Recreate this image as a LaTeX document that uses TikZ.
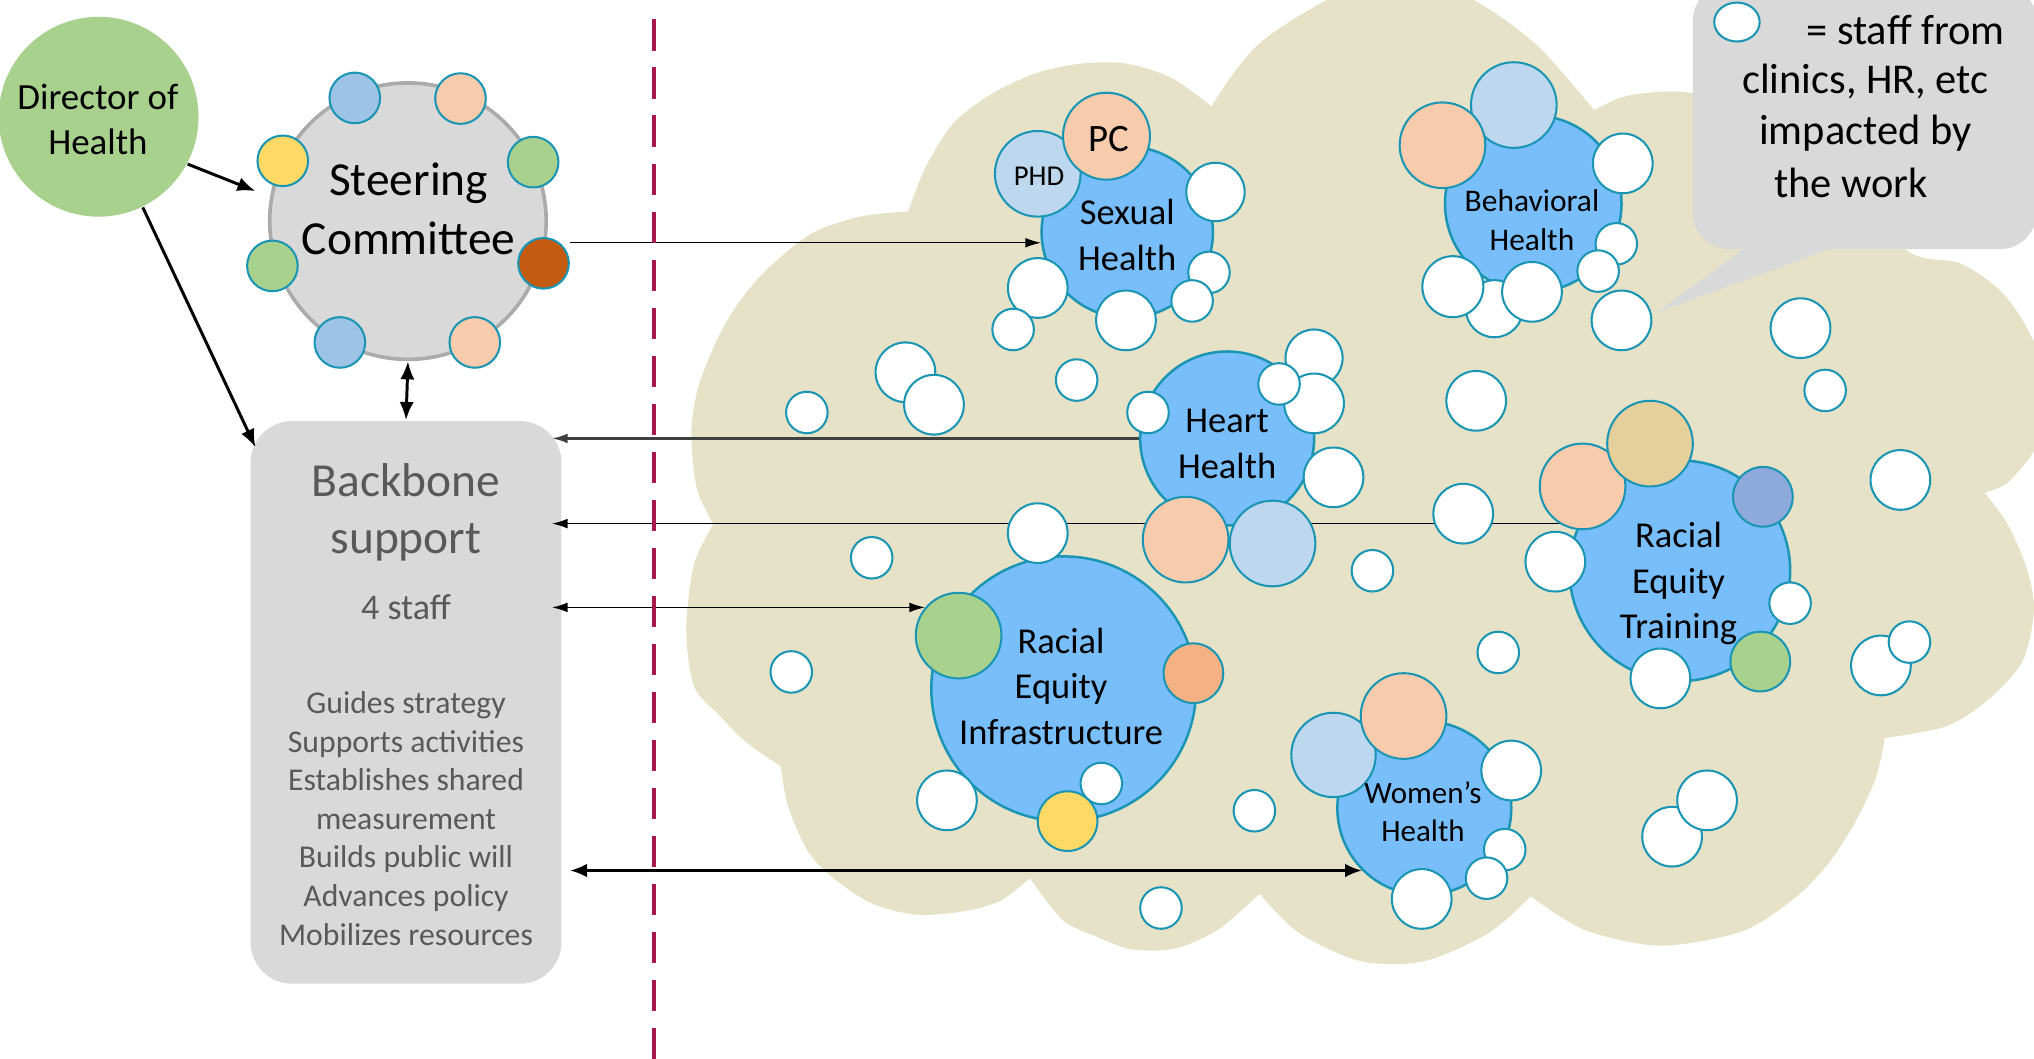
\documentclass[tikz,border=0pt]{standalone}
\usepackage{fontspec}
\setmainfont{Carlito}
\usetikzlibrary{arrows.meta,shapes.geometric}
\pgfdeclarelayer{backdrop}
\pgfdeclarelayer{wires}
\pgfsetlayers{backdrop,wires,main}

\definecolor{dirgreen}{HTML}{A9D18E}
\definecolor{panelgray}{HTML}{D9D9D9}
\definecolor{ringgray}{HTML}{ABABAB}
\definecolor{txtgray}{HTML}{595959}
\definecolor{tealb}{HTML}{1A96B4}
\definecolor{skyblue}{HTML}{78BEFA}
\definecolor{peach}{HTML}{F8CBAD}
\definecolor{paleblue}{HTML}{BDD7EE}
\definecolor{midblue}{HTML}{9DC3E6}
\definecolor{sunyellow}{HTML}{FFD966}
\definecolor{rust}{HTML}{C55A11}
\definecolor{apricot}{HTML}{F4B183}
\definecolor{sand}{HTML}{E5CF9B}
\definecolor{slate}{HTML}{8EA9DB}
\definecolor{cloudc}{HTML}{E6E2C8}
\definecolor{crimson}{HTML}{A8184B}
\definecolor{darkline}{HTML}{404040}

\begin{document}
\begin{tikzpicture}[x=0.01cm, y=-0.01cm,
  tdot/.style={circle, draw=tealb, line width=0.45pt, inner sep=0pt, minimum size=#1},
  ws/.style={tdot=#1, fill=white},
  hub/.style={circle, draw=tealb, fill=skyblue, line width=0.55pt, inner sep=0pt, minimum size=#1},
  hubtxt/.style={align=center, inner sep=0pt, font=\fontsize{8}{10}\selectfont},
  member/.style={tdot=3.9mm},
  ctext/.style={inner sep=0pt, font=\fontsize{9.3}{11.4}\selectfont},
  wire/.style={line width=0.3pt, -{Latex[length=1.2mm, width=0.75mm]}},
  dwire/.style={line width=0.3pt, {Latex[length=1.2mm, width=0.75mm]}-{Latex[length=1.2mm, width=0.75mm]}},
  gwire/.style={wire, draw=darkline, line width=0.5pt},
  fatdwire/.style={line width=0.55pt, {Latex[length=1.3mm, width=1.05mm]}-{Latex[length=1.3mm, width=1.05mm]}},
  dirarrow/.style={line width=0.65pt, -{Latex[length=1.4mm, width=1.1mm]}},
  dirdarrow/.style={line width=0.65pt, {Latex[length=1.4mm, width=1.1mm]}-{Latex[length=1.4mm, width=1.1mm]}},
]
\useasboundingbox (0,0) rectangle (1568,816);

% ---------- background: cloud, callout, backbone panel ----------
\begin{pgfonlayer}{backdrop}
\begin{scope}
\clip (0,0) rectangle (1568,816);
\fill[cloudc] (700,163)
  -- plot[smooth] coordinates {(700,163) (714,128) (735,95) (765,72) (800,56) (834,49) (868,49) (903,60) (934,82)}
  -- plot[smooth] coordinates {(934,82) (952,55) (975,30) (1023,0) (1080,-22) (1136,0) (1185,35) (1229,85)}
  -- plot[smooth] coordinates {(1229,85) (1250,75) (1276,71) (1306,72) (1370,88) (1430,135) (1470,193) (1511,203) (1542,224) (1562,252) (1578,290) (1575,335) (1550,370) (1530,380)}
  -- plot[smooth] coordinates {(1530,380) (1547,403) (1562,437) (1568,470) (1559,510) (1532,540) (1500,560) (1453,569)}
  -- plot[smooth] coordinates {(1453,569) (1446,600) (1430,634) (1410,665) (1384,692) (1343,718) (1280,729) (1222,717) (1180,691)}
  -- plot[smooth] coordinates {(1180,691) (1148,719) (1098,741) (1049,741) (1001,719) (971,689)}
  -- plot[smooth] coordinates {(971,689) (940,716) (907,731) (873,732) (845,722) (819,709) (794,677)}
  -- plot[smooth] coordinates {(794,677) (770,695) (740,703) (705,705) (671,696) (640,675) (622,655) (607,620) (602,591)}
  -- plot[smooth] coordinates {(602,591) (575,572) (555,552) (535,529) (529,485) (535,435) (550,404)}
  -- plot[smooth] coordinates {(550,404) (537,376) (533,331) (540,293) (560,248) (586,213) (624,181) (663,167) (700,163)}
  -- cycle;
% speech callout
\fill[panelgray, rounded corners=2.8mm] (1305,-12) rectangle (1570,192);
\fill[panelgray] (1347,190) -- (1416,190) -- (1277,241) -- cycle;
\end{scope}
% backbone panel
\node[fill=panelgray, rounded corners=3.2mm, minimum width=2.395cm, minimum height=4.335cm, inner sep=0pt] (bb) at (313,541.5) {};
\end{pgfonlayer}

% dashed divider
\draw[crimson, line width=0.9pt, dash pattern=on 2.4mm off 1.3mm] (504.5,15) -- (504.5,830);

% ---------- left side ----------
\node[circle, fill=dirgreen, minimum size=1.54cm, inner sep=0pt] (dh) at (76,90) {};
\node[align=center, inner sep=0pt, font=\fontsize{8.1}{9.8}\selectfont] (dht) at (75.5,92) {Director of\\Health};

\node[circle, fill=panelgray, draw=ringgray, line width=0.8pt, minimum size=2.13cm, inner sep=0pt] (sc) at (314.5,170.5) {};
\node[align=center, inner sep=0pt, font=\fontsize{10.4}{12.8}\selectfont] (sct) at (315,161) {Steering\\Committee};
\node[member, fill=midblue] (m1) at (273.5,75.5) {};
\node[member, fill=peach] (m2) at (355,76) {};
\node[member, fill=sunyellow] (m3) at (218,124) {};
\node[member, fill=dirgreen] (m4) at (411,125) {};
\node[member, fill=dirgreen] (m5) at (210,205) {};
\node[member, fill=rust] (so) at (419,203) {};
\node[member, fill=midblue] (m7) at (262,264) {};
\node[member, fill=peach] (m8) at (366,264) {};

\node[align=center, inner sep=0pt, text=txtgray, font=\fontsize{10.4}{12.6}\selectfont] (bbt) at (313,395) {Backbone\\support};
\node[inner sep=0pt, text=txtgray, font=\fontsize{7.9}{9.5}\selectfont] (bbs) at (313,468) {4 staff};
\node[align=center, inner sep=0pt, text=txtgray, font=\fontsize{6.95}{8.45}\selectfont] (bbl) at (313,631)
  {Guides strategy\\Supports activities\\Establishes shared\\measurement\\Builds public will\\Advances policy\\Mobilizes resources};

% ---------- Sexual Health ----------
\node[hub=13.2mm] (sh) at (869,179) {};
\node[tdot=6.6mm, fill=paleblue] (phd) at (800,134) {};
\node[tdot=6.7mm, fill=peach] (pc) at (853,105) {};
\node[ws=4.5mm] (sw1) at (937,148) {};
\node[ws=4.6mm] (sw2) at (800,222) {};
\node[ws=3.2mm] (sw3) at (781,254) {};
\node[ws=4.6mm] (sw4) at (868,247) {};
\node[ws=3.2mm] (sw5) at (932,210) {};
\node[ws=3.2mm] (sw6) at (919,232) {};

% ---------- Behavioral Health ----------
\node[hub=13.6mm] (bh) at (1182,157) {};
\node[tdot=6.6mm, fill=paleblue] (bhl) at (1167,81) {};
\node[tdot=6.6mm, fill=peach] (bhp) at (1112,112) {};
\node[ws=4.6mm] (bw1) at (1251,126) {};
\node[ws=3.2mm] (bw2) at (1246,188) {};
\node[ws=3.2mm] (bw3) at (1232,209) {};
\node[ws=4.4mm] (bw5) at (1152,238) {};
\node[ws=4.7mm] (bw4) at (1120,221) {};
\node[ws=4.6mm] (bw6) at (1181,225) {};
\node[ws=4.6mm] (bw7) at (1250,247) {};

% ---------- Heart Health ----------
\node[hub=13.4mm] (hh) at (946,338) {};
\node[ws=4.4mm] (hw1) at (1013,276) {};
\node[ws=4.6mm] (hw3) at (1013,311) {};
\node[ws=3.2mm] (hw2) at (986,296) {};
\node[ws=3.2mm] (hw4) at (885,318) {};
\node[ws=4.6mm] (hw5) at (1028,368) {};
\node[tdot=6.6mm, fill=peach] (hp) at (914,416) {};
\node[tdot=6.6mm, fill=paleblue] (hl) at (981,419) {};

% ---------- Racial Equity Training ----------
\node[hub=17mm] (ret) at (1295,440) {};
\node[tdot=6.6mm, fill=peach] (retp) at (1220,375) {};
\node[tdot=6.6mm, fill=sand] (rets) at (1272,342) {};
\node[tdot=4.6mm, fill=slate] (retb) at (1359,383) {};
\node[ws=4.6mm] (rw1) at (1199,433) {};
\node[ws=3.2mm] (rw2) at (1380,465) {};
\node[ws=4.6mm] (rw3) at (1280,523) {};
\node[tdot=4.6mm, fill=dirgreen] (retg) at (1357,510) {};

% ---------- Racial Equity Infrastructure ----------
\node[hub=20.4mm] (rei) at (820,531) {};
\node[tdot=6.6mm, fill=dirgreen] (reig) at (739,490) {};
\node[tdot=4.6mm, fill=apricot] (reio) at (920,519) {};
\node[ws=3.2mm] (iw1) at (849,604) {};
\node[tdot=4.6mm, fill=sunyellow] (reiy) at (823,633) {};
\node[ws=4.6mm] (iw2) at (730,617) {};

% ---------- Women's Health ----------
\node[hub=13.4mm] (wh) at (1098,623) {};
\node[tdot=6.5mm, fill=paleblue] (whl) at (1028,582) {};
\node[tdot=6.6mm, fill=peach] (whp) at (1082,552) {};
\node[ws=4.6mm] (ww1) at (1165,594) {};
\node[ws=3.2mm] (ww2) at (1160,655) {};
\node[ws=3.2mm] (ww3) at (1146,677) {};
\node[ws=4.6mm] (ww4) at (1096,693) {};

% ---------- other staff scattered through the cloud ----------
\node[ws=3.2mm] (o1) at (622,318) {};
\node[ws=4.6mm] (o2) at (698,287) {};
\node[ws=4.6mm] (o3) at (720,312) {};
\node[ws=3.2mm] (o4) at (830,293) {};
\node[ws=4.6mm] (o5) at (800,411) {};
\node[ws=3.2mm] (o6) at (672,430) {};
\node[ws=3.2mm] (o7) at (610,518) {};
\node[ws=3.2mm] (o8) at (1058,440) {};
\node[ws=4.6mm] (o9) at (1128,396) {};
\node[ws=4.6mm] (o10) at (1138,309) {};
\node[ws=4.6mm] (o11) at (1388,253) {};
\node[ws=3.2mm] (o12) at (1407,301) {};
\node[ws=4.6mm] (o13) at (1465,370) {};
\node[ws=3.2mm] (o14) at (1155,503) {};
\node[ws=3.2mm] (o15) at (967,625) {};
\node[ws=3.2mm] (o16) at (895,700) {};
\node[ws=4.6mm] (o17) at (1450,513) {};
\node[ws=3.2mm] (o18) at (1472,495) {};
\node[ws=4.6mm] (o19) at (1289,645) {};
\node[ws=4.6mm] (o20) at (1316,617) {};

% ---------- circle labels ----------
\node[hubtxt] (sht) at (869,181) {Sexual\\Health};
\node[inner sep=0pt, font=\fontsize{8.5}{10}\selectfont] (pct) at (854.5,107) {PC};
\node[inner sep=0pt, font=\fontsize{6.3}{7.5}\selectfont] (phdt) at (801,136) {PHD};
\node[hubtxt, font=\fontsize{6.9}{8.5}\selectfont] (bht) at (1181,170) {Behavioral\\Health};
\node[hubtxt] (hht) at (946,342) {Heart\\Health};
\node[hubtxt] (rett) at (1294,450) {Racial\\Equity\\Training};
\node[hubtxt] (reit) at (818,529) {Racial\\Equity\\Infrastructure};
\node[hubtxt, font=\fontsize{6.8}{8.3}\selectfont] (wht) at (1097,626) {Women’s\\Health};

% ---------- callout legend ----------
\node[ellipse, draw=tealb, fill=white, line width=0.45pt, inner sep=0pt, minimum width=3.5mm, minimum height=3mm] (key) at (1339,17) {};
\node[ctext] (c1) at (1469,23) {= staff from};
\node[ctext] (c2) at (1438,63) {clinics, HR, etc};
\node[ctext] (c3) at (1438,103) {impacted by};
\node[ctext] (c4) at (1427,141) {the work};

% ---------- connectors ----------
\begin{pgfonlayer}{wires}
\draw[dirarrow, shorten >=1.2mm] (dh.-28) -- (sc.170);
\draw[dirarrow] (dh.-64) -- ([xshift=0.45mm, yshift=-2.1mm]bb.north west);
\draw[dirdarrow] (sc.south) -- (bb.north);
\draw[wire] (so.east |- sh.187) -- (sh.187);
\draw[gwire] (hh.west) -- ([xshift=-0.8mm]bb.east |- hh.west);
\draw[wire] (ret.155) -- ([xshift=-0.8mm]bb.east |- ret.155);
\draw[dwire] ([xshift=-0.8mm]bb.east |- reig.140) -- (reig.140);
\draw[fatdwire] ([xshift=0.6mm]bb.east |- wh.225) -- (wh.225);
\end{pgfonlayer}
\end{tikzpicture}
\end{document}
